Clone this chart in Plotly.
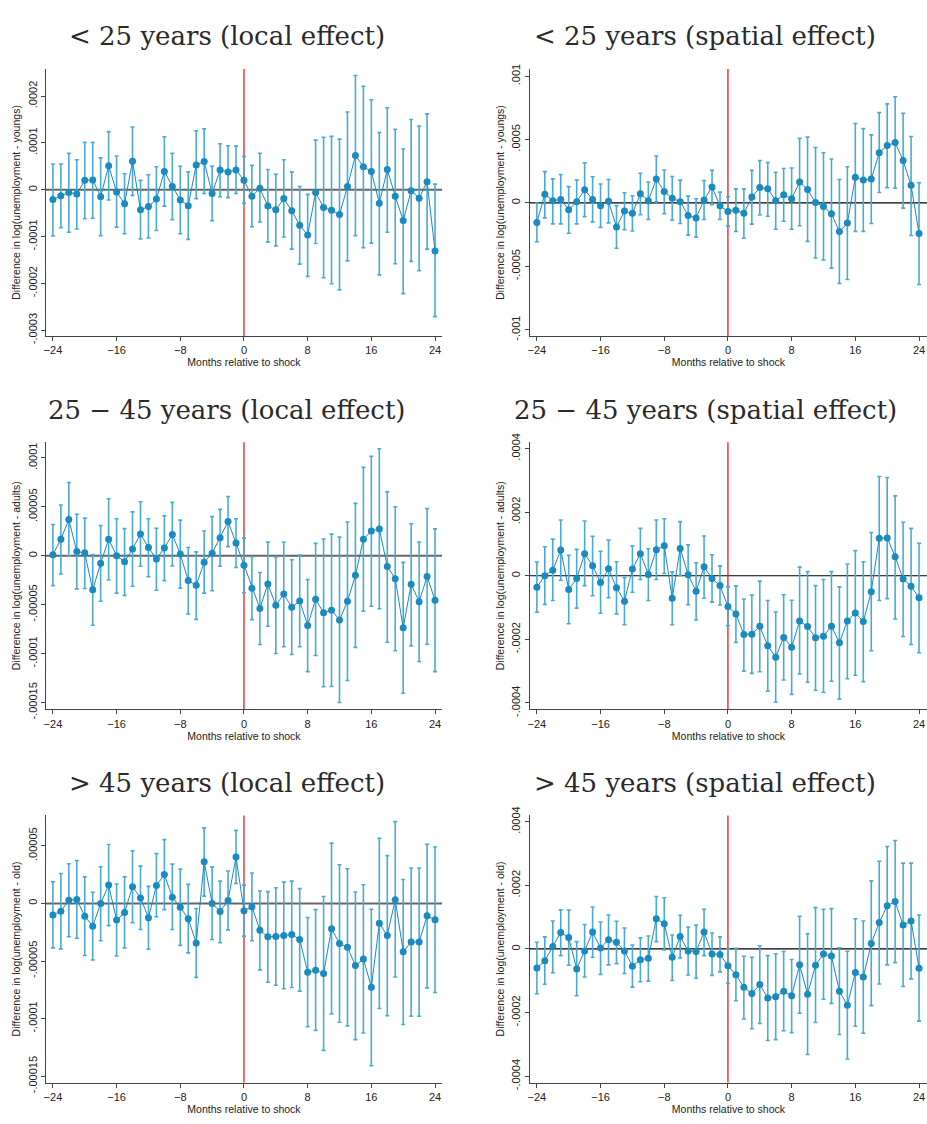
import plotly.graph_objects as go
from plotly.subplots import make_subplots

months = list(range(-24, 25))

# <25 years, local effect (units of 1e-4)
young_local_b = [-0.21, -0.13, -0.06, -0.09, 0.20, 0.21, -0.15, 0.51, -0.05, -0.30, 0.61, -0.43, -0.36, -0.20, 0.39, 0.07, -0.22, -0.34, 0.53, 0.60, -0.08, 0.42, 0.38, 0.42, 0.20,
                 -0.14, 0.03, -0.35, -0.43, -0.19, -0.45, -0.76, -0.97, -0.06, -0.38, -0.44, -0.53, 0.07, 0.73, 0.49, 0.39, -0.29, 0.43, -0.14, -0.66, -0.02, -0.18, 0.17, -1.31]
young_local_hi = [0.55, 0.55, 0.78, 0.64, 1.01, 1.01, 0.68, 1.24, 0.72, 0.34, 1.34, 0.20, 0.32, 0.49, 1.13, 0.78, 0.50, 0.38, 1.26, 1.30, 0.50, 0.98, 0.94, 0.93, 0.71,
                  0.52, 0.78, 0.43, 0.33, 0.64, 0.38, 0.07, -0.10, 1.06, 1.12, 1.14, 1.08, 1.66, 2.44, 2.21, 1.92, 1.22, 1.75, 1.29, 0.87, 1.50, 1.36, 1.62, 0.12]
young_local_lo = [-0.99, -0.81, -0.91, -0.84, -0.62, -0.61, -0.98, -0.22, -0.80, -0.94, -0.12, -1.05, -1.03, -0.87, -0.35, -0.64, -0.94, -1.06, -0.19, -0.08, -0.66, -0.15, -0.17, -0.08, -0.29,
                  -0.79, -0.69, -1.12, -1.20, -1.01, -1.27, -1.59, -1.85, -1.15, -1.88, -2.01, -2.14, -1.52, -0.98, -1.24, -1.14, -1.82, -0.91, -1.58, -2.22, -1.53, -1.73, -1.27, -2.71]

# <25 years, spatial effect (units of 1e-4)
young_spatial_b = [-1.54, 0.69, 0.18, 0.28, -0.54, 0.10, 1.03, 0.28, -0.23, 0.13, -1.90, -0.64, -0.82, 0.72, 0.18, 1.88, 0.90, 0.36, 0.10, -1.00, -1.18, 0.23, 1.26, -0.23, -0.67,
                   -0.57, -0.82, 0.46, 1.21, 1.11, 0.18, 0.64, 0.33, 1.65, 1.05, 0.03, -0.28, -0.85, -2.26, -1.59, 2.03, 1.80, 1.88, 3.96, 4.52, 4.76, 3.34, 1.39, -2.42]
young_spatial_hi = [0.00, 2.47, 1.90, 2.24, 1.29, 1.80, 3.16, 2.06, 1.49, 1.85, -0.21, 0.80, 0.57, 2.34, 1.65, 3.70, 2.60, 2.08, 1.80, 0.54, 0.33, 1.77, 2.57, 0.85, 0.49,
                    1.11, 1.11, 2.57, 3.34, 3.19, 2.42, 2.72, 2.75, 5.09, 5.19, 4.37, 3.96, 3.47, 1.85, 2.85, 6.27, 5.86, 5.37, 7.12, 7.81, 8.38, 7.07, 5.24, 1.59]
young_spatial_lo = [-3.06, -1.18, -1.65, -1.65, -2.39, -1.65, -1.08, -1.49, -1.93, -1.57, -3.57, -2.11, -2.21, -0.93, -1.31, 0.08, -0.85, -1.36, -1.62, -2.54, -2.70, -1.31, -0.13, -1.31, -1.83,
                    -2.24, -2.78, -1.67, -0.95, -1.05, -2.08, -1.44, -2.08, -1.80, -3.03, -4.34, -4.50, -5.14, -6.35, -6.04, -2.24, -2.24, -1.62, 0.82, 1.21, 1.16, -0.41, -2.57, -6.43]

# 25-45 years, local effect (units of 1e-5)
adult_local_b = [0.1, 1.7, 3.7, 0.43, 0.3, -3.48, -0.77, 1.7, 0.0, -0.6, 0.7, 2.24, 0.84, -0.33, 0.8, 2.18, 0.17, -2.54, -3.01, -0.67, 0.27, 1.84, 3.5, 1.3, -0.97,
                 -3.31, -5.39, -2.88, -5.06, -3.92, -5.26, -4.62, -7.13, -4.45, -5.83, -5.56, -6.56, -4.65, -2.0, 1.7, 2.54, 2.75, -1.1, -2.34, -7.37, -2.91, -4.69, -2.11, -4.55]
adult_local_hi = [3.2, 5.2, 7.5, 4.25, 3.85, 0.13, 3.1, 5.83, 3.78, 2.78, 4.49, 5.52, 3.78, 2.81, 4.08, 5.46, 3.65, 0.84, 0.4, 2.54, 4.0, 4.75, 6.06, 3.78, 1.81,
                  -0.1, -1.71, 1.41, -0.13, 1.41, -0.4, 0.07, -2.44, 1.27, 1.71, 2.21, 1.91, 3.45, 5.36, 9.04, 10.18, 10.95, 6.53, 5.02, -0.67, 3.28, 1.41, 4.82, 2.75]
adult_local_lo = [-3.05, -1.87, 0.0, -3.38, -3.35, -7.1, -4.65, -2.48, -3.82, -4.05, -3.11, -1.07, -2.14, -3.52, -2.54, -1.04, -3.31, -5.96, -6.5, -3.82, -3.58, -1.07, 0.94, -1.2, -3.78,
                  -6.53, -9.07, -7.2, -10.0, -9.3, -10.1, -9.3, -11.85, -10.2, -13.4, -13.36, -15.0, -12.75, -9.37, -5.66, -5.16, -5.42, -8.84, -9.71, -14.06, -9.21, -10.81, -9.04, -11.85]

# 25-45 years, spatial effect (units of 1e-4)
adult_spatial_b = [-0.36, 0.00, 0.17, 0.81, -0.43, -0.09, 0.69, 0.31, -0.21, 0.22, -0.38, -0.80, 0.21, 0.69, 0.04, 0.82, 0.94, -0.71, 0.86, 0.03, -0.49, 0.28, -0.09, -0.31, -0.97,
                   -1.20, -1.85, -1.84, -1.59, -2.20, -2.56, -1.94, -2.25, -1.42, -1.60, -1.95, -1.90, -1.59, -2.11, -1.42, -1.17, -1.44, -0.50, 1.18, 1.19, 0.60, -0.10, -0.33, -0.69]
adult_spatial_hi = [0.43, 0.91, 1.15, 1.75, 0.64, 0.83, 1.72, 1.24, 0.77, 1.12, 0.44, -0.06, 0.94, 1.49, 0.85, 1.75, 1.79, 0.12, 1.70, 0.97, 0.41, 1.25, 0.66, 0.31, -0.35,
                    -0.32, -0.73, -0.61, -0.17, -0.78, -1.14, -0.60, -0.77, 0.27, 0.13, -0.31, -0.12, 0.13, -0.35, 0.37, 0.79, 0.44, 1.36, 3.12, 3.09, 2.51, 1.68, 1.49, 1.02]
adult_spatial_lo = [-1.15, -0.90, -0.78, -0.14, -1.51, -1.02, -0.31, -0.63, -1.18, -0.69, -1.20, -1.54, -0.52, -0.12, -0.78, -0.12, 0.07, -1.54, 0.01, -0.91, -1.39, -0.71, -0.83, -0.92, -1.57,
                    -2.10, -3.00, -3.07, -3.02, -3.63, -3.98, -3.28, -3.73, -3.09, -3.35, -3.60, -3.67, -3.32, -3.88, -3.24, -3.13, -3.33, -2.36, -0.78, -0.72, -1.36, -1.91, -2.16, -2.42]

# >45 years, local effect (units of 1e-5)
old_local_b = [-1.0, -0.68, 0.28, 0.34, -1.11, -1.99, 0.0, 1.59, -1.45, -0.80, 1.45, 0.48, -1.25, 1.56, 2.50, 0.54, -0.34, -1.34, -3.44, 3.61, 0.0, -0.71, 0.26, 4.03, -0.63,
               -0.28, -2.33, -2.90, -2.87, -2.78, -2.70, -3.13, -5.97, -5.80, -6.08, -2.19, -3.49, -3.81, -5.40, -4.83, -7.27, -1.73, -2.78, 0.31, -4.20, -3.35, -3.35, -1.08, -1.42]
old_local_hi = [1.88, 2.59, 3.44, 3.72, 2.30, 0.97, 3.18, 5.11, 1.68, 2.30, 4.57, 3.24, 1.48, 4.32, 5.54, 3.41, 2.98, 1.65, -0.45, 6.56, 3.15, 1.93, 2.81, 6.34, 1.59,
                2.64, 1.08, 1.02, 1.36, 1.85, 1.93, 1.28, -1.22, -0.54, 0.60, 5.23, 3.35, 3.01, 0.99, 1.62, -0.51, 5.65, 4.15, 7.10, 2.07, 3.07, 3.07, 5.14, 4.89]
old_local_lo = [-3.86, -3.95, -2.90, -3.01, -4.52, -4.91, -3.24, -1.93, -4.57, -3.86, -1.68, -2.27, -3.98, -1.16, -0.54, -2.27, -3.64, -4.29, -6.42, 0.63, -3.13, -3.41, -2.30, 1.73, -2.84,
                -3.24, -5.77, -6.85, -7.10, -7.41, -7.30, -7.61, -10.71, -11.02, -12.76, -9.60, -10.31, -10.63, -11.82, -11.25, -14.09, -9.12, -9.74, -6.39, -10.51, -9.80, -9.80, -7.33, -7.73]

# >45 years, spatial effect (units of 1e-4)
old_spatial_b = [-0.60, -0.37, 0.08, 0.52, 0.36, -0.63, -0.06, 0.53, 0.03, 0.29, 0.21, -0.06, -0.54, -0.34, -0.29, 0.95, 0.79, -0.26, 0.39, -0.06, -0.08, 0.53, -0.16, -0.17, -0.53,
                 -0.81, -1.20, -1.40, -1.12, -1.54, -1.50, -1.33, -1.47, -0.50, -1.42, -0.51, -0.16, -0.22, -1.33, -1.77, -0.74, -0.88, 0.17, 0.83, 1.36, 1.49, 0.75, 0.88, -0.61]
old_spatial_hi = [0.21, 0.38, 0.88, 1.23, 1.22, 0.23, 0.77, 1.32, 0.85, 1.07, 0.87, 0.66, 0.12, 0.35, 0.41, 1.65, 1.61, 0.44, 1.06, 0.69, 0.75, 1.25, 0.50, 0.38, 0.01,
                  0.02, -0.23, -0.26, 0.10, -0.21, -0.15, -0.08, -0.33, 1.03, 0.48, 1.30, 1.25, 1.27, 0.04, -0.07, 0.95, 0.88, 2.14, 2.76, 3.22, 3.41, 2.70, 2.70, 1.07]
old_spatial_lo = [-1.41, -1.11, -0.75, -0.21, -0.51, -1.47, -0.88, -0.26, -0.80, -0.50, -0.46, -0.77, -1.20, -1.03, -1.01, 0.23, -0.03, -0.99, -0.28, -0.82, -0.92, -0.21, -0.83, -0.72, -1.08,
                  -1.63, -2.20, -2.51, -2.34, -2.88, -2.85, -2.57, -2.63, -2.02, -3.32, -2.31, -1.58, -1.71, -2.69, -3.46, -2.43, -2.65, -1.78, -1.10, -0.50, -0.43, -1.18, -0.94, -2.27]

titles = ["&lt; 25 years (local effect)", "&lt; 25 years (spatial effect)",
          "25 \u2212 45 years (local effect)", "25 \u2212 45 years (spatial effect)",
          "&gt; 45 years (local effect)", "&gt; 45 years (spatial effect)"]
ytitles = ["Difference in log(unemployment - youngs)"] * 2 + \
          ["Difference in log(unemployment - adults)"] * 2 + \
          ["Difference in log(unemployment - old)"] * 2
x_ticks = [-24, -16, -8, 0, 8, 16, 24]

panels = [
    (1, 1, 1e-4, young_local_b, young_local_lo, young_local_hi,
     [-0.0003, -0.0002, -0.0001, 0, 0.0001, 0.0002], ["-.0003", "-.0002", "-.0001", "0", ".0001", ".0002"],
     [-0.0003126, 0.000258]),
    (1, 2, 1e-4, young_spatial_b, young_spatial_lo, young_spatial_hi,
     [-0.001, -0.0005, 0, 0.0005, 0.001], ["-.001", "-.0005", "0", ".0005", ".001"],
     [-0.00105, 0.001057]),
    (2, 1, 1e-5, adult_local_b, adult_local_lo, adult_local_hi,
     [-0.00015, -0.0001, -0.00005, 0, 0.00005, 0.0001], ["-.00015", "-.0001", "-.00005", "0", ".00005", ".0001"],
     [-0.000157, 0.0001162]),
    (2, 2, 1e-4, adult_spatial_b, adult_spatial_lo, adult_spatial_hi,
     [-0.0004, -0.0002, 0, 0.0002, 0.0004], ["-.0004", "-.0002", "0", ".0002", ".0004"],
     [-0.00042, 0.00042]),
    (3, 1, 1e-5, old_local_b, old_local_lo, old_local_hi,
     [-0.00015, -0.0001, -0.00005, 0, 0.00005], ["-.00015", "-.0001", "-.00005", "0", ".00005"],
     [-0.0001555, 0.0000764]),
    (3, 2, 1e-4, old_spatial_b, old_spatial_lo, old_spatial_hi,
     [-0.0004, -0.0002, 0, 0.0002, 0.0004], ["-.0004", "-.0002", "0", ".0002", ".0004"],
     [-0.00042, 0.00042]),
]

W, H = 927, 1124
x_domains = {1: [44 / W, 441 / W], 2: [529 / W, 1.0]}
x_ranges = {1: [-24.88, 24.88], 2: [-24.88, 25.0]}
y_domains = {1: [1 - 333 / H, 1 - 61 / H], 2: [1 - 713 / H, 1 - 441 / H], 3: [1 - 1093 / H, 1 - 821 / H]}
title_y = {1: 1 - 27 / H, 2: 1 - 408 / H, 3: 1 - 788 / H}
title_x = {1: 225 / W, 2: 705 / W}

POINT_COLOR = "#1a8abf"
BAR_COLOR = "#4aaad6"
AXIS_COLOR = "#444444"
FONT = "Liberation Sans, Arial, sans-serif"

fig = make_subplots(rows=3, cols=2)

for i, (r, c, scale, b, lo, hi, tv, tt, yr) in enumerate(panels):
    est = [v * scale for v in b]
    up = [(h - v) * scale for h, v in zip(hi, b)]
    dn = [(v - l) * scale for v, l in zip(b, lo)]
    fig.add_trace(go.Scatter(
        x=months, y=est, mode="lines+markers",
        line=dict(color=POINT_COLOR, width=1),
        marker=dict(color=POINT_COLOR, size=7),
        error_y=dict(type="data", symmetric=False, array=up, arrayminus=dn,
                     color=BAR_COLOR, thickness=1.6, width=2),
        showlegend=False),
        row=r, col=c)

    fig.add_hline(y=0, row=r, col=c,
                  line=dict(color="#666666" if c == 1 else "#000000", width=2 if c == 1 else 1.2),
                  layer="below")
    fig.add_vline(x=0, row=r, col=c, line=dict(color="#f01818", width=1.3), layer="below")

    fig.update_xaxes(domain=x_domains[c], range=x_ranges[c], tickvals=x_ticks,
                     ticktext=[str(v).replace("-", "\u2212") for v in x_ticks],
                     showline=True, linecolor=AXIS_COLOR, linewidth=1,
                     ticks="outside", ticklen=4, tickcolor=AXIS_COLOR,
                     showgrid=False, zeroline=False,
                     tickfont=dict(family=FONT, size=11, color="#222222"),
                     title=dict(text="Months relative to shock", standoff=2,
                                font=dict(family=FONT, size=10.5, color="#222222")),
                     row=r, col=c)
    fig.update_yaxes(domain=y_domains[r], range=yr, tickvals=tv, ticktext=tt,
                     tickangle=-90,
                     showline=True, linecolor=AXIS_COLOR, linewidth=1,
                     ticks="outside", ticklen=4, tickcolor=AXIS_COLOR,
                     showgrid=False, zeroline=False,
                     tickfont=dict(family=FONT, size=11, color="#222222"),
                     title=dict(text=ytitles[i], standoff=3,
                                font=dict(family=FONT, size=10.5, color="#222222")),
                     row=r, col=c)

    fig.add_annotation(text=titles[i], x=title_x[c], y=title_y[r],
                       xref="paper", yref="paper", xanchor="center", yanchor="middle",
                       showarrow=False,
                       font=dict(family="DejaVu Serif, serif", size=26, color="#2a2a2a"))

fig.update_layout(
    width=W,
    height=H,
    margin=dict(l=0, r=0, t=0, b=0),
    plot_bgcolor="white",
    paper_bgcolor="white",
    showlegend=False
)

# drop the default page margin so the figure sits at the window's corner
fig.write_html("out.html", post_script="document.body.style.margin = '0';",
               config={"displayModeBar": False})
